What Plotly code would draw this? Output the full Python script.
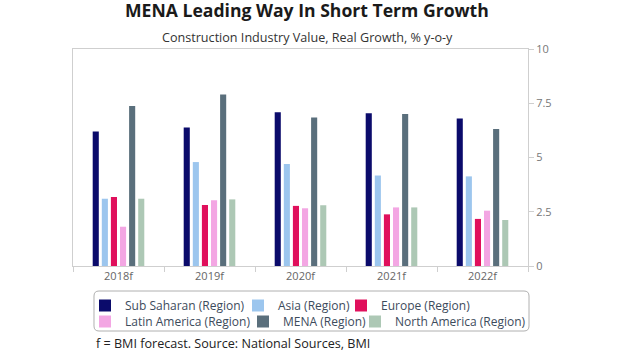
import plotly.graph_objects as go

categories = ["2018f", "2019f", "2020f", "2021f", "2022f"]
series_names = ["Sub Saharan (Region)", "Asia (Region)", "Europe (Region)",
                "Latin America (Region)", "MENA (Region)", "North America (Region)"]
sub_saharan = [6.2, 6.38, 7.09, 7.04, 6.8]
asia = [3.1, 4.79, 4.7, 4.17, 4.13]
europe = [3.18, 2.81, 2.77, 2.38, 2.17]
latin_america = [1.81, 3.03, 2.66, 2.7, 2.55]
mena = [7.37, 7.9, 6.84, 7.0, 6.31]
north_america = [3.1, 3.07, 2.8, 2.7, 2.12]
y_ticks = [0, 2.5, 5, 7.5, 10]
y_ticklabels = ["0", "2.5", "5", "7.5", "10"]

values = [sub_saharan, asia, europe, latin_america, mena, north_america]
colors = ["#0b0b6b", "#9cc6ee", "#e0105c", "#f3a6e3", "#5a6f7c", "#adc8b5"]

FONT = "Open Sans"
W, H = 620, 355
L, R, T, B = 73, 92, 49, 89
pw, ph = W - L - R, H - T - B

def px_x(px):
    return (px - L) / pw

def px_y(py):
    return (H - B - py) / ph

# legend entry layout: (text start x px, row top y px)
legend_pos = [(124, 291), (277, 291), (380, 291), (124, 307), (282, 307), (394, 307)]

fig = go.Figure()
legend_layout = {}
for i, (name, vals, col) in enumerate(zip(series_names, values, colors)):
    lid = "legend" if i == 0 else f"legend{i + 1}"
    fig.add_trace(go.Bar(name=name, x=categories, y=vals, marker_color=col,
                         marker_line_width=0, legend=lid))
    tx, ty = legend_pos[i]
    legend_layout[lid] = dict(x=px_x(tx - 39), y=px_y(ty), orientation="h",
                              xanchor="left", yanchor="top",
                              bgcolor="rgba(0,0,0,0)", borderwidth=0,
                              font=dict(family=FONT, size=12, color="#3d4b5c"))

fig.update_layout(
    width=W, height=H,
    margin=dict(l=L, r=R, t=T, b=B, pad=0, autoexpand=False),
    paper_bgcolor="white", plot_bgcolor="white",
    font=dict(family=FONT),
    barmode="group", bargap=0.4, bargroupgap=0.33,
    title=dict(text="<b>MENA Leading Way In Short Term Growth</b>",
               font=dict(family=FONT, size=17.6, color="#1a1a1a"),
               x=0.495, xanchor="center", xref="container",
               y=1 - 11 / H, yanchor="middle", yref="container"),
    xaxis=dict(showline=True, linecolor="#cfcfcf", linewidth=1, mirror=True,
               ticks="outside", tickson="boundaries", ticklen=5, tickcolor="#cfcfcf",
               tickfont=dict(family=FONT, size=11, color="#666666"),
               showgrid=False, zeroline=False),
    yaxis=dict(side="right", range=[0, 10], tickvals=y_ticks, ticktext=y_ticklabels,
               showline=True, linecolor="#cfcfcf", linewidth=1, mirror=True,
               ticks="outside", ticklen=5, tickcolor="#cfcfcf",
               tickfont=dict(family=FONT, size=11, color="#777777"),
               showgrid=False, zeroline=False),
    showlegend=True,
    **legend_layout,
)

# legend frame (rounded rectangle)
x0, x1, y0, y1, r = 94, 529, 291, 331, 5
def P(px, py):
    return f"{px_x(px):.5f},{px_y(py):.5f}"
path = (f"M{P(x0 + r, y0)} L{P(x1 - r, y0)} Q{P(x1, y0)} {P(x1, y0 + r)} "
        f"L{P(x1, y1 - r)} Q{P(x1, y1)} {P(x1 - r, y1)} L{P(x0 + r, y1)} "
        f"Q{P(x0, y1)} {P(x0, y1 - r)} L{P(x0, y0 + r)} Q{P(x0, y0)} {P(x0 + r, y0)} Z")
fig.add_shape(type="path", path=path, xref="paper", yref="paper",
              line=dict(color="#b0b0b0", width=1), fillcolor="rgba(0,0,0,0)")

fig.add_annotation(text="Construction Industry Value, Real Growth, % y-o-y",
                   xref="paper", yref="paper", x=px_x(307), y=px_y(37),
                   xanchor="center", yanchor="middle", showarrow=False,
                   font=dict(family=FONT, size=12.6, color="#333333"))
fig.add_annotation(text="f = BMI forecast. Source: National Sources, BMI",
                   xref="paper", yref="paper", x=px_x(94), y=px_y(343),
                   xanchor="left", yanchor="middle", showarrow=False,
                   font=dict(family=FONT, size=12.6, color="#222222"))

fig.write_html("out.html", config={"displayModeBar": False},
               post_script="document.body.style.margin='0';document.body.style.overflow='hidden';")
